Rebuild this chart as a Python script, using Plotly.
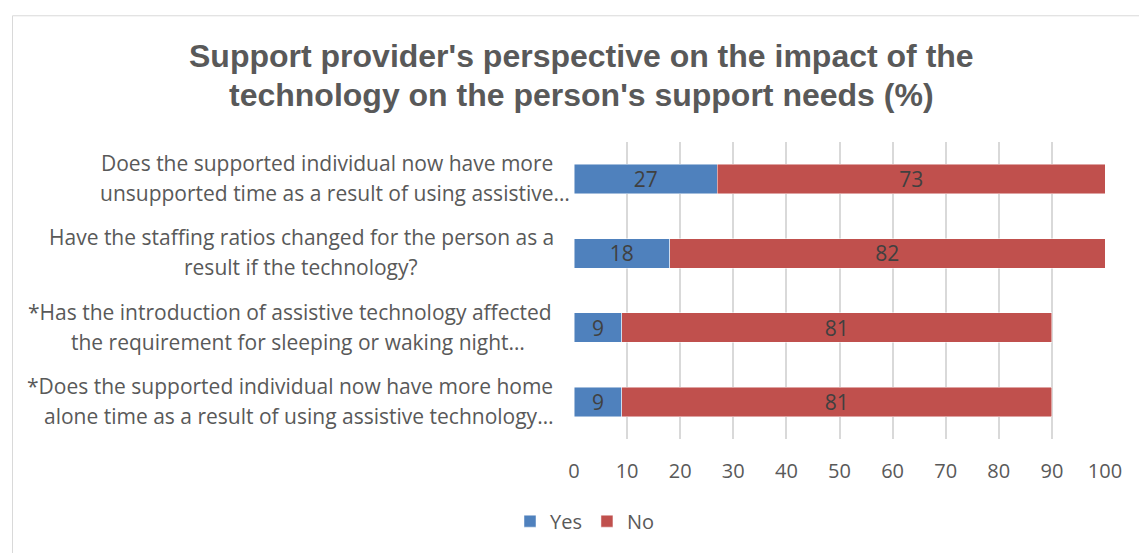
import plotly.graph_objects as go

# Survey responses (%), one row per question, top to bottom
line1 = [
    "Does the supported individual now have more",
    "Have the staffing ratios changed for the person as a",
    "*Has the introduction of assistive technology affected",
    "*Does the supported individual now have more home",
]
line2 = [
    "unsupported time as a result of using assistive…",
    "result if the technology?",
    "the requirement for sleeping or waking night…",
    "alone time as a result of using assistive technology…",
]
categories = ["Q1", "Q2", "Q3", "Q4"]
yes_values = [27, 18, 9, 9]
no_values = [73, 82, 81, 81]
x_ticks = [0, 10, 20, 30, 40, 50, 60, 70, 80, 90, 100]

W, H = 1139, 553
L, R, T, B = 574, 34, 142, 111
PW, PH = W - L - R, H - T - B

def px_x(x):
    return (x - L) / PW

def px_y(y):
    return (H - B - y) / PH

TEXT = "#595959"
LABEL_FONT = "Open Sans"

fig = go.Figure()
for name, vals, color in [("Yes", yes_values, "#4F81BD"), ("No", no_values, "#C0504D")]:
    fig.add_trace(go.Bar(
        name=name, y=categories, x=vals, orientation="h",
        marker=dict(color=color, line=dict(color="rgba(255,255,255,0.6)", width=0.8)),
        text=vals, textposition="inside", insidetextanchor="middle", textangle=0,
        constraintext="none",
        textfont=dict(family=LABEL_FONT, size=21, color="#404040"),
        width=0.4,
    ))

annotations = []
# Title, two lines
for txt, yp in [("Support provider's perspective on the impact of the", 55),
                ("technology on the person's support needs (%)", 95)]:
    annotations.append(dict(
        text=txt, xref="paper", yref="paper", x=px_x(581), y=px_y(yp),
        xanchor="center", yanchor="middle", showarrow=False,
        font=dict(family="Liberation Sans", size=32, color=TEXT, weight="bold"),
    ))

# Category labels, two centred lines each
centers1 = [327, 301, 290, 290]
centers2 = [335, 301, 298, 298]
for cat, a, b, c1, c2 in zip(categories, line1, line2, centers1, centers2):
    annotations.append(dict(
        text=a, xref="paper", yref="y", x=px_x(c1), y=cat, yshift=16,
        xanchor="center", yanchor="middle", showarrow=False,
        font=dict(family=LABEL_FONT, size=21, color=TEXT),
    ))
    annotations.append(dict(
        text=b, xref="paper", yref="y", x=px_x(c2), y=cat, yshift=-14,
        xanchor="center", yanchor="middle", showarrow=False,
        font=dict(family=LABEL_FONT, size=21, color=TEXT),
    ))

fig.update_layout(
    width=W, height=H,
    margin=dict(l=L, r=R, t=T, b=B, pad=0),
    paper_bgcolor="white", plot_bgcolor="white",
    barmode="stack",
    showlegend=True,
    legend=dict(
        orientation="h", x=px_x(585), y=px_y(525),
        xanchor="center", yanchor="middle", traceorder="normal",
        font=dict(family=LABEL_FONT, size=20, color=TEXT),
        itemwidth=30, tracegroupgap=0,
    ),
    xaxis=dict(
        range=[0, 100], tickvals=x_ticks, showgrid=True,
        gridcolor="#D9D9D9", gridwidth=1.5, zeroline=False,
        showline=False, ticks="", ticklabelstandoff=18,
        tickfont=dict(family=LABEL_FONT, size=20, color=TEXT),
        fixedrange=True,
    ),
    yaxis=dict(
        categoryorder="array", categoryarray=categories,
        autorange="reversed", showticklabels=False, showgrid=False,
        zeroline=False, showline=False, ticks="",
    ),
    annotations=annotations,
    shapes=[dict(
        type="rect", xref="paper", yref="paper",
        x0=px_x(12.5), x1=px_x(W + 10), y0=px_y(H + 10), y1=px_y(14.5),
        line=dict(color="#D9D9D9", width=1), fillcolor="rgba(0,0,0,0)",
        layer="below",
    )],
)

fig.write_html("out.html")
